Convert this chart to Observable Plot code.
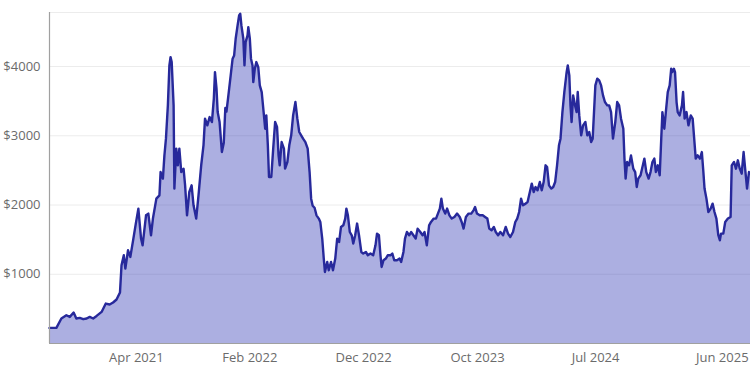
<!DOCTYPE html>
<html>
<head>
<meta charset="utf-8">
<script src="https://cdn.jsdelivr.net/npm/d3@7"></script>
<script src="https://cdn.jsdelivr.net/npm/@observablehq/plot@0.6"></script>
<style>
  html, body { margin: 0; padding: 0; background: #ffffff; }
  #chart svg { display: block; }
</style>
</head>
<body>
<div id="chart"></div>
<script>
// Dates of the readings (UTC)
const dates = [
  "2020-06-30","2020-07-18","2020-07-31","2020-08-13","2020-08-22","2020-09-01","2020-09-08","2020-09-17","2020-09-26",
  "2020-10-05","2020-10-13","2020-10-22","2020-10-31","2020-11-13","2020-11-24","2020-12-04","2020-12-13","2020-12-22","2020-12-31",
  "2021-01-04","2021-01-10","2021-01-14","2021-01-21","2021-01-27","2021-02-04","2021-02-10","2021-02-17","2021-02-24","2021-02-28",
  "2021-03-09","2021-03-15","2021-03-22","2021-03-27","2021-04-05","2021-04-13","2021-04-16","2021-04-22","2021-04-26","2021-04-30",
  "2021-05-05","2021-05-09","2021-05-12","2021-05-15","2021-05-20","2021-05-22","2021-05-27","2021-05-31","2021-06-04","2021-06-09",
  "2021-06-15","2021-06-19","2021-06-24","2021-06-30","2021-07-06","2021-07-11","2021-07-18","2021-07-24","2021-07-31","2021-08-06",
  "2021-08-10","2021-08-16","2021-08-22","2021-08-28","2021-09-02","2021-09-05","2021-09-09","2021-09-12","2021-09-17","2021-09-23",
  "2021-09-28","2021-10-02","2021-10-05","2021-10-10","2021-10-16","2021-10-21","2021-10-25","2021-10-29","2021-11-03","2021-11-07",
  "2021-11-10","2021-11-13","2021-11-18","2021-11-21","2021-11-24","2021-11-29","2021-12-01","2021-12-05","2021-12-08","2021-12-12",
  "2021-12-14","2021-12-18","2021-12-22","2021-12-27","2021-12-31","2022-01-05","2022-01-10","2022-01-14","2022-01-17","2022-01-21",
  "2022-01-24","2022-01-30","2022-02-04","2022-02-09","2022-02-14","2022-02-18","2022-02-21","2022-02-26","2022-03-04","2022-03-07",
  "2022-03-13","2022-03-18","2022-03-23","2022-03-28","2022-04-03","2022-04-08","2022-04-13","2022-04-18","2022-04-23","2022-04-29",
  "2022-05-05","2022-05-10","2022-05-14","2022-05-18","2022-05-23","2022-05-28","2022-06-03","2022-06-07","2022-06-12","2022-06-16",
  "2022-06-19","2022-06-25","2022-06-29","2022-07-05","2022-07-10","2022-07-16","2022-07-21","2022-07-26","2022-07-31","2022-08-06",
  "2022-08-11","2022-08-14","2022-08-18","2022-08-23","2022-08-28","2022-09-01","2022-09-06","2022-09-11","2022-09-16","2022-09-22",
  "2022-09-27","2022-10-04","2022-10-09","2022-10-16","2022-10-23","2022-10-29","2022-11-02","2022-11-07","2022-11-11","2022-11-14",
  "2022-11-19","2022-11-25","2022-11-30","2022-12-07","2022-12-12","2022-12-17","2022-12-24","2022-12-31","2023-01-04","2023-01-10",
  "2023-01-14","2023-01-19","2023-01-25","2023-01-30","2023-02-05","2023-02-11","2023-02-16","2023-02-23","2023-03-01","2023-03-06",
  "2023-03-12","2023-03-18","2023-03-23","2023-03-30","2023-04-05","2023-04-10","2023-04-15","2023-04-19","2023-04-23","2023-04-29",
  "2023-05-04","2023-05-10","2023-05-16","2023-05-23","2023-05-30","2023-06-06","2023-06-11","2023-06-16","2023-06-22","2023-06-29",
  "2023-07-06","2023-07-12","2023-07-16","2023-07-21","2023-07-28","2023-08-05","2023-08-11","2023-08-17","2023-08-22","2023-08-28",
  "2023-09-03","2023-09-08","2023-09-14","2023-09-20","2023-09-27","2023-10-04","2023-10-10","2023-10-16","2023-10-23","2023-10-29",
  "2023-11-03","2023-11-08","2023-11-13","2023-11-18","2023-11-25","2023-11-30","2023-12-06","2023-12-11","2023-12-16","2023-12-21",
  "2023-12-26","2024-01-01","2024-01-06","2024-01-11","2024-01-16","2024-01-20","2024-01-25","2024-01-31","2024-02-05","2024-02-10",
  "2024-02-15","2024-02-20","2024-02-24","2024-02-29","2024-03-05","2024-03-11","2024-03-14","2024-03-18","2024-03-21","2024-03-24",
  "2024-03-28","2024-04-02","2024-04-06","2024-04-09","2024-04-13","2024-04-18","2024-04-23","2024-04-29","2024-05-04","2024-05-09",
  "2024-05-14","2024-05-18","2024-05-25","2024-05-30","2024-06-04","2024-06-09","2024-06-14","2024-06-19","2024-06-25","2024-06-30",
  "2024-07-05","2024-07-10","2024-07-16","2024-07-21","2024-07-26","2024-07-31","2024-08-06","2024-08-09","2024-08-12","2024-08-16",
  "2024-08-21","2024-08-26","2024-09-01","2024-09-06","2024-09-10","2024-09-14","2024-09-20","2024-09-26","2024-09-30","2024-10-05",
  "2024-10-11","2024-10-16","2024-10-21","2024-10-26","2024-10-30","2024-11-04","2024-11-09","2024-11-13","2024-11-16","2024-11-21",
  "2024-11-25","2024-11-30","2024-12-05","2024-12-09","2024-12-12","2024-12-16","2024-12-19","2024-12-23","2024-12-26","2024-12-31",
  "2025-01-06","2025-01-09","2025-01-13","2025-01-18","2025-01-23","2025-01-29","2025-02-03","2025-02-07","2025-02-11","2025-02-16",
  "2025-02-22","2025-02-27","2025-03-03","2025-03-06","2025-03-11","2025-03-16","2025-03-22","2025-03-27","2025-04-01","2025-04-06",
  "2025-04-11","2025-04-15","2025-04-18","2025-04-24","2025-04-29","2025-05-06","2025-05-13","2025-05-16","2025-05-22","2025-05-27",
  "2025-06-01","2025-06-06","2025-06-11","2025-06-16","2025-06-20","2025-06-25","2025-06-30","2025-07-04"
];

// Price in US dollars at each date
const prices = [
  225,225,361,408,384,447,361,370,351,
  361,384,361,398,456,577,563,592,635,736,
  1130,1274,1082,1346,1250,1515,1720,1948,1515,1418,
  1851,1876,1563,1804,2092,2140,2476,2381,2717,2958,
  3439,4016,4136,4064,3439,2237,2814,2573,2814,2476,
  2525,2284,1851,2188,2284,1996,1804,2140,2573,2862,
  3247,3150,3270,3198,3535,3919,3680,3342,3198,2765,
  2900,3400,3350,3583,3872,4113,4160,4401,4593,4737,
  4762,4593,4401,4016,4352,4449,4569,4401,4113,4016,
  3775,3968,4064,3991,3727,3631,3342,3102,3294,2862,
  2404,2404,2814,3198,3126,2717,2573,2909,2814,2525,
  2621,2862,3006,3294,3487,3247,3054,3006,2958,2909,
  2814,2476,2092,1990,1960,1851,1804,1755,1515,1227,
  1033,1178,1058,1178,1058,1227,1515,1466,1683,1707,
  1804,1948,1851,1610,1563,1443,1563,1732,1563,1322,
  1299,1322,1274,1299,1274,1418,1587,1563,1274,1105,
  1202,1227,1274,1274,1299,1202,1202,1227,1178,1322,
  1515,1610,1563,1610,1563,1515,1659,1610,1563,1610,
  1418,1707,1755,1804,1804,1876,1948,2092,1948,1876,
  1948,1851,1804,1827,1876,1827,1755,1659,1827,1876,
  1876,1923,1971,1876,1851,1851,1827,1804,1659,1635,
  1683,1610,1563,1610,1563,1683,1587,1538,1610,1755,
  1804,1899,2092,1996,2020,2043,2188,2309,2188,2260,
  2212,2332,2212,2332,2573,2549,2284,2237,2260,2332,
  2573,2862,2958,3342,3631,3919,4016,3872,3439,3198,
  3583,3439,3342,3631,3294,3006,3150,3198,3006,3054,
  2909,2958,3727,3824,3800,3727,3583,3487,3439,3439,
  3342,2958,3198,3487,3439,3247,3102,2670,2381,2621,
  2573,2717,2525,2476,2260,2381,2429,2573,2670,2476,
  2381,2476,2621,2670,2476,2573,2429,2958,3342,3102,
  3342,3631,3727,3968,3919,3968,3919,3487,3342,3294,
  3439,3631,3247,3342,3150,3294,3247,2958,2670,2717,
  2670,2765,2476,2237,2092,1899,1948,2020,1899,1804,
  1563,1491,1587,1587,1755,1804,1827,2573,2621,2525,
  2645,2525,2453,2765,2525,2237,2476,2453
];

// Axis ticks
const yTicks = [1000, 2000, 3000, 4000];
const xTickLabels = ["Apr 2021", "Feb 2022", "Dec 2022", "Oct 2023", "Jul 2024", "Jun 2025"];
const xTickDates = ["2021-04-24", "2022-02-15", "2022-12-10", "2023-10-01", "2024-07-27", "2025-06-29"];
const xStart = "2020-06-30";
const xEnd = "2025-07-04";
const yMax = 4780;

const data = dates.map((d, i) => ({date: new Date(d), price: prices[i]}));
const tickDates = xTickDates.map(d => new Date(d));
const labelOf = new Map(tickDates.map((d, i) => [+d, xTickLabels[i]]));

const chart = Plot.plot({
  width: 750,
  height: 369,
  marginLeft: 49,
  marginRight: 0,
  marginTop: 12,
  marginBottom: 26,
  style: {fontFamily: "'Open Sans', 'Noto Sans', sans-serif", fontSize: "13px", color: "#6b6b6b", background: "#ffffff"},
  x: {type: "utc", domain: [new Date(xStart), new Date(xEnd)], label: null},
  y: {domain: [0, yMax], label: null},
  marks: [
    Plot.ruleY(yTicks.concat([yMax]), {stroke: "#ececec", strokeWidth: 1}),
    Plot.areaY(data, {x: "date", y: "price", fill: "#3037b4", fillOpacity: 0.4}),
    Plot.lineY(data, {x: "date", y: "price", stroke: "#27299b", strokeWidth: 2.4, strokeLinejoin: "round"}),
    Plot.ruleX([new Date(xStart)], {stroke: "#a0a0a0", strokeWidth: 1.2}),
    Plot.ruleY([0], {stroke: "#a0a0a0", strokeWidth: 1.2}),
    Plot.axisY({ticks: yTicks, tickFormat: d => "$" + d, tickSize: 0, tickPadding: 9, fontSize: 13, fill: "#6b6b6b", label: null}),
    Plot.axisX({ticks: tickDates, tickFormat: d => labelOf.get(+d), tickSize: 0, tickPadding: 9, textAnchor: "end", fontSize: 13, fill: "#6b6b6b", label: null})
  ]
});

document.getElementById("chart").appendChild(chart);
</script>
</body>
</html>
